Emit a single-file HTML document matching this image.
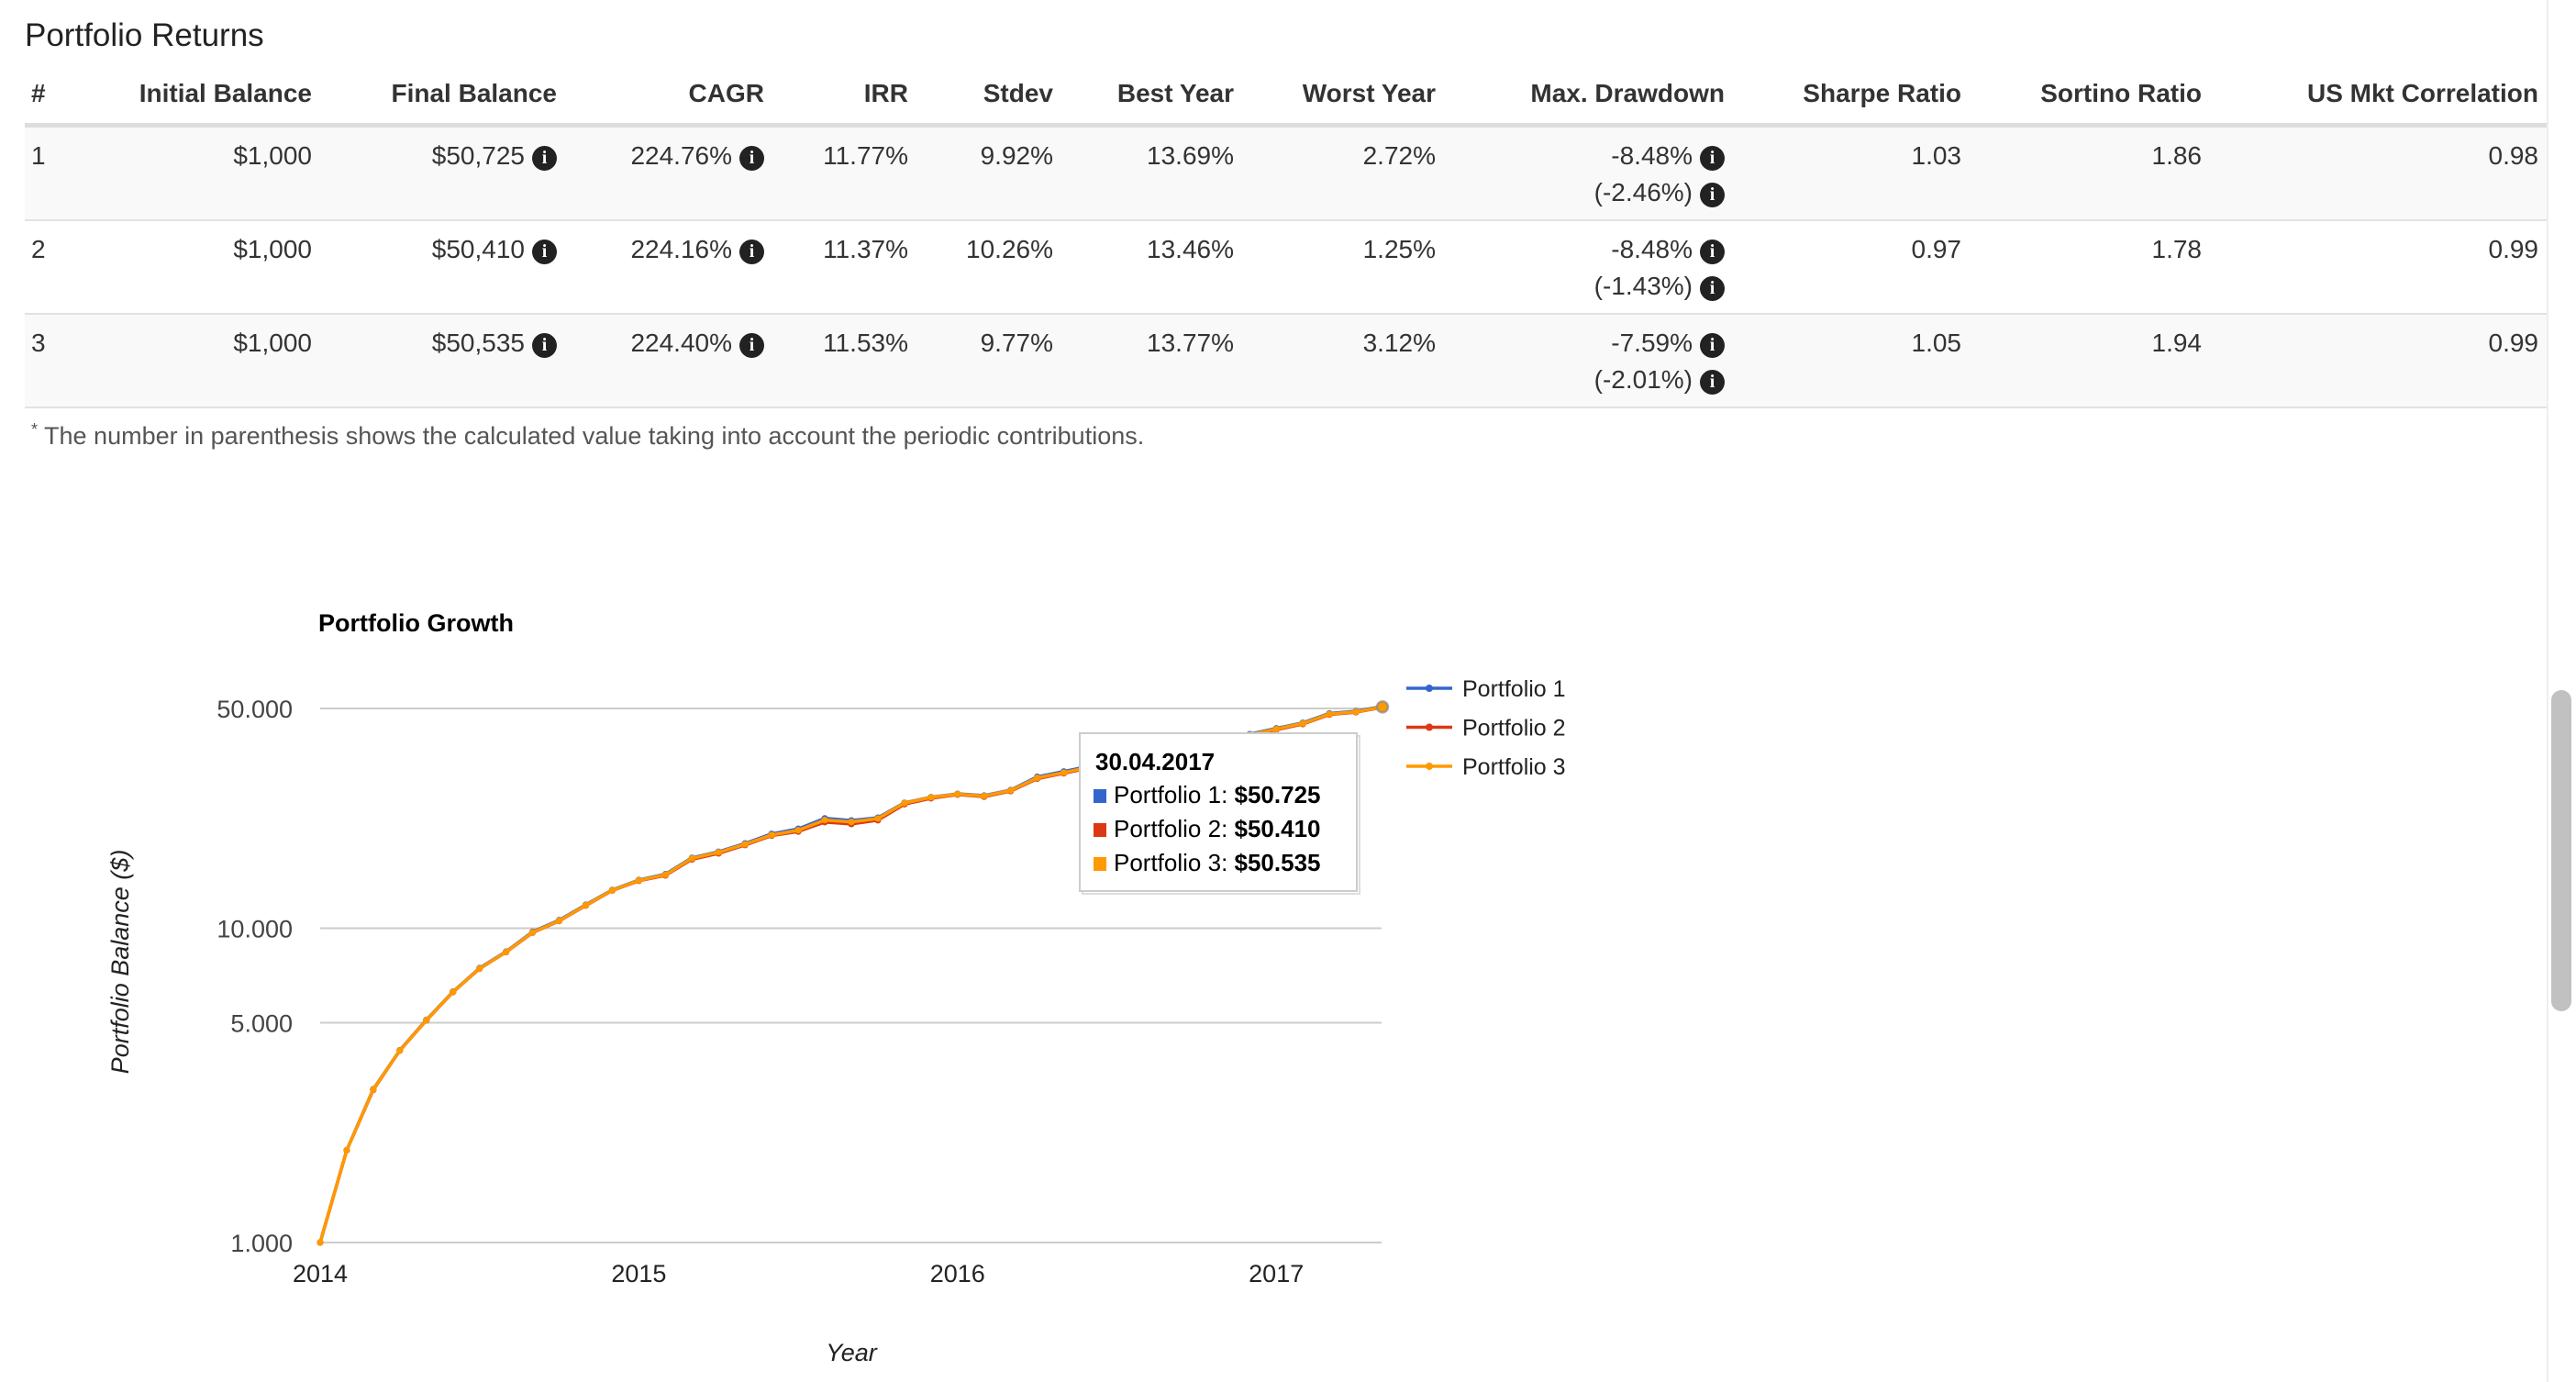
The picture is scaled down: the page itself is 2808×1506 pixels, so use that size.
<!DOCTYPE html>
<html><head><meta charset="utf-8">
<style>
body{margin:0;width:2808px;height:1506px;background:#fff;font-family:"Liberation Sans",Arial,sans-serif;color:#333;position:relative;overflow:hidden}
.a{position:absolute;white-space:nowrap}
.r{position:absolute;text-align:right;width:400px;white-space:nowrap}
.h{font-weight:bold;font-size:28px;top:86px}
.c{font-size:28px}
.i{display:inline-block;width:27px;height:27px;border-radius:50%;background:#222;color:#fff;font-weight:bold;font-size:20px;line-height:27px;text-align:center;margin-left:8px;vertical-align:1px;font-family:"Liberation Serif",serif}
</style></head><body>
<div class="a" style="left:27px;top:19px;font-size:35px;color:#222">Portfolio Returns</div>
<div>
<div class="a h" style="left:34px">#</div>
<div class="r h" style="left:-60px">Initial Balance</div>
<div class="r h" style="left:207px">Final Balance</div>
<div class="r h" style="left:433px">CAGR</div>
<div class="r h" style="left:590px">IRR</div>
<div class="r h" style="left:748px">Stdev</div>
<div class="r h" style="left:945px">Best Year</div>
<div class="r h" style="left:1165px">Worst Year</div>
<div class="r h" style="left:1480px">Max. Drawdown</div>
<div class="r h" style="left:1738px">Sharpe Ratio</div>
<div class="r h" style="left:2000px">Sortino Ratio</div>
<div class="r h" style="left:2367px">US Mkt Correlation</div>
<div class="a" style="left:27px;top:134px;width:2750px;height:5px;background:#ddd"></div>
<div class="a" style="left:27px;top:139px;width:2750px;height:100px;background:#f9f9f9;border-bottom:2px solid #e2e2e2"></div>
<div class="a" style="left:27px;top:241px;width:2750px;height:100px;background:#fff;border-bottom:2px solid #e2e2e2"></div>
<div class="a" style="left:27px;top:343px;width:2750px;height:100px;background:#f9f9f9;border-bottom:2px solid #e2e2e2"></div>
</div>
<div id="rows"></div>
<div class="a" style="left:34px;top:458px;font-size:27px;color:#555"><sup style="font-size:18px">*</sup> The number in parenthesis shows the calculated value taking into account the periodic contributions.</div>

<div class="a" style="left:2776px;top:0;width:2px;height:1506px;background:#eee"></div>
<div class="a" style="left:2781px;top:752px;width:22px;height:350px;border-radius:11px;background:#c1c1c1"></div>

<svg id="chart" width="2808" height="1506" style="position:absolute;left:0;top:0" font-family="Liberation Sans, Arial, sans-serif"></svg>

<script>
const rowNums=["1","2","3"];
const initial=["$1,000","$1,000","$1,000"];
const finals=["$50,725","$50,410","$50,535"];
const cagr=["224.76%","224.16%","224.40%"];
const irr=["11.77%","11.37%","11.53%"];
const stdev=["9.92%","10.26%","9.77%"];
const best=["13.69%","13.46%","13.77%"];
const worst=["2.72%","1.25%","3.12%"];
const mdd=["-8.48%","-8.48%","-7.59%"];
const mdd2=["(-2.46%)","(-1.43%)","(-2.01%)"];
const sharpe=["1.03","0.97","1.05"];
const sortino=["1.86","1.78","1.94"];
const corr=["0.98","0.99","0.99"];
const rowsEl=document.getElementById('rows');
const I='<span class="i">i</span>';
function cell(left,top,html,name){
  const d=document.createElement('div');
  d.className='r c';d.style.left=left+'px';d.style.top=top+'px';d.innerHTML=html;
  
  
  rowsEl.appendChild(d);
}
for(let k=0;k<3;k++){
  const t=154+k*102;
  const n='row-'+(k+1);
  const d=document.createElement('div');
  d.className='a c';d.style.left='34px';d.style.top=t+'px';d.textContent=rowNums[k];
  
  
  rowsEl.appendChild(d);
  cell(-60,t,initial[k],n+'-initial-balance');
  cell(207,t,finals[k]+I,n+'-final-balance');
  cell(433,t,cagr[k]+I,n+'-cagr');
  cell(590,t,irr[k],n+'-irr');
  cell(748,t,stdev[k],n+'-stdev');
  cell(945,t,best[k],n+'-best-year');
  cell(1165,t,worst[k],n+'-worst-year');
  cell(1480,t,mdd[k]+I,n+'-max-drawdown');
  cell(1480,t+40,mdd2[k]+I,n+'-max-drawdown-contrib');
  cell(1738,t,sharpe[k],n+'-sharpe');
  cell(2000,t,sortino[k],n+'-sortino');
  cell(2367,t,corr[k],n+'-us-mkt-correlation');
}

const p3=[1000,1966,3070,4083,5100,6270,7440,8400,9700,10560,11830,13200,14190,14790,16680,17430,18490,19800,20490,22080,21780,22320,25000,26060,26700,26320,27420,30070,31250,32570,34000,35000,36200,37800,39500,41200,43000,44800,48000,48800,50535];
const p2=[1000,1966,3060,4080,5090,6260,7430,8390,9680,10540,11800,13180,14150,14720,16560,17300,18390,19700,20300,21750,21450,22050,24800,25900,26600,26200,27300,29900,31100,32400,33800,34850,36050,37650,39300,41050,42800,44600,47800,48650,50410];
const p1=[1000,1966,3075,4090,5110,6280,7460,8420,9740,10600,11870,13230,14230,14850,16740,17500,18600,19950,20700,22350,22000,22450,25050,26100,26750,26400,27500,30300,31500,32800,34200,35200,36400,38000,39700,41400,43200,45000,48200,49000,50725];
const yTicks=[1000,5000,10000,50000];
const yTickLabels=["1.000","5.000","10.000","50.000"];
const xYears=[2014,2015,2016,2017];
const seriesNames=["Portfolio 1","Portfolio 2","Portfolio 3"];
const seriesColors=["#3366cc","#dc3912","#ff9900"];

const X0=349,PX_YEAR=347.4,YB=1354,YT=772,X1=1506;
function xm(i){return X0+i*PX_YEAR/12;}
function xy(y){return X0+(y-2014)*PX_YEAR;}
function ys(v){return YB-(Math.log10(v)-3)/(Math.log10(50000)-3)*(YB-YT);}
const svg=document.getElementById('chart');
const NS='http://www.w3.org/2000/svg';
function el(tag,attrs,name,parent){
  const e=document.createElementNS(NS,tag);
  for(const k in attrs)e.setAttribute(k,attrs[k]);
  
  
  (parent||svg).appendChild(e);return e;
}
function txt(x,y,s,attrs,name){const t=el('text',Object.assign({x:x,y:y},attrs),name);t.textContent=s;return t;}

txt(347,688,"Portfolio Growth",{'font-size':27,'font-weight':'bold',fill:'#000'},'chart-title');
yTicks.forEach((v,i)=>{
  el('line',{x1:X0,x2:X1,y1:ys(v),y2:ys(v),stroke:'#cccccc','stroke-width':2},'gridline-'+yTickLabels[i]);
  txt(319,ys(v)+10,yTickLabels[i],{'font-size':27,fill:'#444','text-anchor':'end'},'y-tick-'+yTickLabels[i]);
});
xYears.forEach(y=>{txt(xy(y),1397,String(y),{'font-size':27,fill:'#222','text-anchor':'middle'},'x-tick-'+y);});
txt(0,0,"Portfolio Balance ($)",{'font-size':27,'font-style':'italic',fill:'#222','text-anchor':'middle',transform:'translate(140,1048) rotate(-90)'},'y-axis-title');
txt(928,1483,"Year",{'font-size':27,'font-style':'italic',fill:'#222','text-anchor':'middle'},'x-axis-title');

[p1,p2,p3].forEach((s,k)=>{
  const g=el('g',{},'series-'+(k+1));
  el('polyline',{points:s.map((v,i)=>xm(i)+','+ys(v)).join(' '),fill:'none',stroke:seriesColors[k],'stroke-width':3.5,'stroke-linejoin':'round'},'line-portfolio-'+(k+1),g);
  s.forEach((v,i)=>el('circle',{cx:xm(i),cy:ys(v),r:3.6,fill:seriesColors[k]},'point-p'+(k+1)+'-'+i,g));
});
const last=p3.length-1;
el('circle',{cx:xm(last),cy:ys(p3[last]),r:6,fill:'#ff9900',stroke:'#888','stroke-width':2.5,'stroke-opacity':0.7},'highlighted-point');

seriesNames.forEach((n,k)=>{
  const y=750+k*42.5;
  el('line',{x1:1533,x2:1583,y1:y,y2:y,stroke:seriesColors[k],'stroke-width':3.5},'legend-line-'+(k+1));
  el('circle',{cx:1558,cy:y,r:4,fill:seriesColors[k]},'legend-dot-'+(k+1));
  txt(1594,y+9,n,{'font-size':25,fill:'#222'},'legend-entry-'+(k+1));
});

const tg=el('g',{},'tooltip');
el('rect',{x:1180,y:802,width:302,height:172,fill:'#fff',stroke:'#ddd','stroke-width':2},'tooltip-shadow',tg);
el('rect',{x:1177,y:799,width:302,height:172,fill:'#fff',stroke:'#ccc','stroke-width':2},'tooltip-box',tg);
txt(1194,839,"30.04.2017",{'font-size':26,'font-weight':'bold',fill:'#000'},'tooltip-date');
const finalsFmt=["$50.725","$50.410","$50.535"];
seriesNames.forEach((n,k)=>{
  const y=875+k*37;
  el('rect',{x:1192,y:y-15,width:14,height:15,fill:seriesColors[k]},'tooltip-swatch-'+(k+1));
  const t=txt(1214,y,"",{'font-size':26,fill:'#000'},'tooltip-row-'+(k+1));
  const a=document.createElementNS(NS,'tspan');a.textContent=n+": ";t.appendChild(a);
  const b=document.createElementNS(NS,'tspan');b.setAttribute('font-weight','bold');b.textContent=finalsFmt[k];t.appendChild(b);
});
</script>
</body></html>
